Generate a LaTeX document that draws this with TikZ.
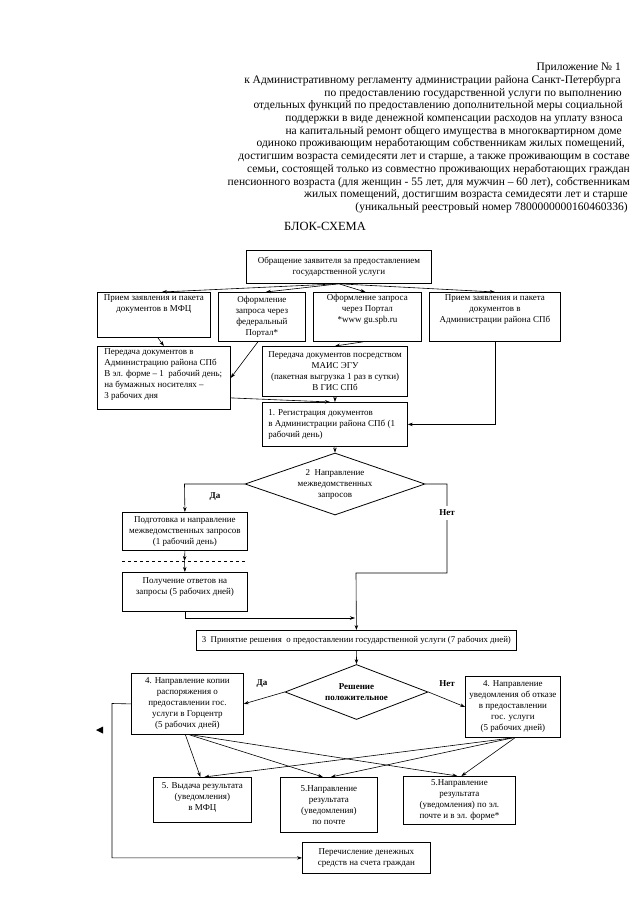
\documentclass[tikz,border=0pt]{standalone}
\usepackage{fontspec}
\setmainfont{Liberation Serif}
\usetikzlibrary{shapes.geometric,arrows.meta,calc}
% centred text box: [vertical pos]{outer width}{outer height}{text}
\newcommand{\pbc}[4][c]{\parbox[c][\dimexpr#3pt-4pt\relax][#1]{\dimexpr#2pt-4pt\relax}{\centering #4\par}}
% left aligned text box
\newcommand{\pbl}[4][c]{\parbox[c][\dimexpr#3pt-4pt\relax][#1]{\dimexpr#2pt-4pt\relax}{\raggedright #4\par}}
\begin{document}
\begin{tikzpicture}[x=1pt,y=-1pt,
  box/.style={draw, line width=0.8pt, inner sep=2pt, anchor=north west,
    font=\fontsize{9}{11}\selectfont},
  dia/.style={draw, diamond, line width=0.8pt, inner sep=0pt, align=center,
    font=\fontsize{9}{11}\selectfont},
  hdr/.style={anchor=base east, inner sep=0pt, font=\fontsize{11.5}{12.7}\selectfont},
  lbl/.style={inner sep=1pt, font=\fontsize{9}{10}\selectfont\bfseries},
  arr/.style={line width=0.6pt, -{Stealth[length=5pt,width=3.5pt]}},
  ln/.style={line width=0.6pt}]
\useasboundingbox (0,0) rectangle (640,905);
\fill[white] (0,0) rectangle (640,905);

% ---- header ----
\node[hdr] (h1)  at (621,70.5)  {Приложение № 1};
\node[hdr] (h2)  at (621,83.2)  {к Административному регламенту администрации района Санкт-Петербурга};
\node[hdr] (h3)  at (622,96)    {по предоставлению государственной услуги по выполнению};
\node[hdr] (h4)  at (623,108.7) {отдельных функций по предоставлению дополнительной меры социальной};
\node[hdr] (h5)  at (623,121.4) {поддержки в виде денежной компенсации расходов на уплату взноса};
\node[hdr] (h6)  at (622,134.2) {на капитальный ремонт общего имущества в многоквартирном доме};
\node[hdr] (h7)  at (625,146.9) {одиноко проживающим неработающим собственникам жилых помещений,};
\node[hdr] (h8)  at (630,159.6) {достигшим возраста семидесяти лет и старше, а также проживающим в составе};
\node[hdr] (h9)  at (630,172.3) {семьи, состоящей только из совместно проживающих неработающих граждан};
\node[hdr] (h10) at (630,185.1) {пенсионного возраста (для женщин - 55 лет, для мужчин – 60 лет), собственникам};
\node[hdr] (h11) at (628,197.8) {жилых помещений, достигшим возраста семидесяти лет и старше};
\node[hdr] (h12) at (628,210.5) {(уникальный реестровый номер 7800000000160460336)};
\node[inner sep=0pt, font=\fontsize{12.5}{14}\selectfont] (title) at (325,226) {БЛОК-СХЕМА};

% ---- boxes ----
\node[box] (T) at (246,250) {\pbc{185}{33}{Обращение заявителя за предоставлением\\государственной услуги}};
\node[box] (A) at (97,292)  {\pbc[t]{113}{45}{Прием заявления и пакета\\документов в МФЦ}};
\node[box] (B) at (218,292) {\pbc{87}{49}{Оформление\\запроса через\\федеральный\\Портал*}};
\node[box] (C) at (313,292) {\pbc[t]{108}{49}{Оформление запроса\\через Портал\\{}*www gu.spb.ru}};
\node[box] (D) at (429,292) {\pbc[t]{131}{49}{Прием заявления и пакета\\документов в\\Администрации района СПб}};
\node[box] (E) at (97,346)  {\pbl[t]{133}{63}{\hspace*{5pt}Передача документов в\\\hspace*{5pt}Администрацию района СПб\\\hspace*{5pt}В эл. форме – 1~ рабочий день;\\\hspace*{5pt}на бумажных носителях –\\\hspace*{5pt}3 рабочих дня}};
\node[box, line width=1.1pt] (F) at (262,346) {\pbc{145}{50}{Передача документов посредством\\МАИС ЭГУ\\(пакетная выгрузка 1 раз в сутки)\\В ГИС СПб}};
\node[box] (G) at (262,402) {\pbl{145}{44}{\hspace*{4pt}1. Регистрация документов\\\hspace*{4pt}в Администрации района СПб (1\\\hspace*{4pt}рабочий день)}};
\node[dia, aspect=2.9, minimum width=180pt, minimum height=62pt] (D1) at (335,484) {2~ Направление\\межведомственных\\запросов};
\node[box] (H) at (122,512) {\pbc{125}{38}{Подготовка и направление\\межведомственных запросов\\(1 рабочий день)}};
\node[box] (K) at (122,572) {\pbc[t]{125}{39}{\vspace*{3pt}Получение ответов на\\запросы (5 рабочих дней)}};
\node[box, font=\fontsize{8.8}{11}\selectfont] (J) at (196,630) {\pbc{320}{20}{3~ Принятие решения~ о предоставлении государственной услуги (7 рабочих дней)}};
\node[dia, aspect=2.6, minimum width=143pt, minimum height=55pt, font=\fontsize{9}{11}\selectfont\bfseries] (D2) at (356.5,692) {Решение\\положительное};
\node[box] (L) at (131,673) {\pbc{112}{61}{4. Направление копии\\распоряжения о\\предоставлении гос.\\услуги в Горцентр\\(5 рабочих дней)}};
\node[box] (M) at (465,676) {\pbc{95}{61}{4. Направление\\уведомления об отказе\\в предоставлении\\гос. услуги\\(5 рабочих дней)}};
\node[box] (N) at (153,777) {\pbc[t]{98}{45}{\vspace*{3pt}5. Выдача результата\\(уведомления)\\в МФЦ}};
\node[box] (O) at (280,777) {\pbc{97}{55}{5.Направление\\результата\\(уведомления)\\по почте}};
\node[box] (P) at (403,776) {\pbc{112}{48}{5.Направление\\результата\\(уведомления) по эл.\\почте и в эл. форме*}};
\node[box] (Q) at (302,842) {\pbc{128}{31}{Перечисление денежных\\средств на счета граждан}};

% ---- connectors ----
\draw[arr] (T.south) -- ([xshift=8pt]A.north);
\draw[arr] (T.south) -- ([xshift=4pt]B.north);
\draw[arr] (T.south) -- ([xshift=-2pt]C.north);
\draw[arr] (T.south) -- (D.north);
\draw[arr] ([xshift=4pt]A.south) -- (E.north);
\draw[arr] ([xshift=-4pt]B.south) -- (E.east);
\draw[arr] ([xshift=-4pt]C.south) -- (F.north);
\draw[arr] (D.south) |- (G.east);
\draw[arr] (F.south) -- (G.north);
\draw[arr] ([yshift=-20pt]E.east) -- ([xshift=-5pt]G.north);
\draw[arr] (G.south) -- (D1.north);

\coordinate (dl) at (184.5,484);
\draw[arr] (D1.west) -- (dl) -- (H.north);
\node[lbl] (da1) at (215,497) {Да};

\coordinate (nr1) at (447,484);
\coordinate (nr2) at (447,573);
\coordinate (nr3) at (356,573);
\draw[arr] (D1.east) -- (nr1) -- (nr2) -- (nr3) -- (J.north);
\node[lbl, fill=white, inner ysep=4pt] (net1) at (447,513) {Нет};

\coordinate (hd) at (184.5,561);
\draw[ln, dashed] (122,561) -- (247,561);
\draw[arr] (H.south) -- (hd);
\draw[arr] (hd) -- (K.north);
\coordinate (kr) at (355,618);
\draw[arr] (K.south) |- (kr);

\draw[arr] (J.south) -- (D2.north);
\draw[arr] (D2.west) -- (L.east);
\draw[arr] (D2.east) -- (M.west);
\node[lbl] (da2) at (262,684) {Да};
\node[lbl] (net2) at (447,684) {Нет};

\draw[arr] ([xshift=-2pt]L.south) -- ([xshift=-2pt]N.north);
\draw[arr] ([xshift=2pt]L.south) -- ([xshift=-6pt]O.north);
\draw[arr] ([xshift=4pt]L.south) -- ([xshift=-2pt]P.north);
\draw[arr] (M.south) -- ([xshift=2pt]N.north);
\draw[arr] (M.south) -- ([xshift=2pt]O.north);
\draw[arr] ([xshift=2pt]M.south) -- ([xshift=2pt]P.north);

\coordinate (lb) at (112,703.5);
\draw[arr] (L.west) -- (lb) |- (Q.west);
\fill (96,730) -- (103,726.5) -- (103,733.5) -- cycle;
\end{tikzpicture}
\end{document}
